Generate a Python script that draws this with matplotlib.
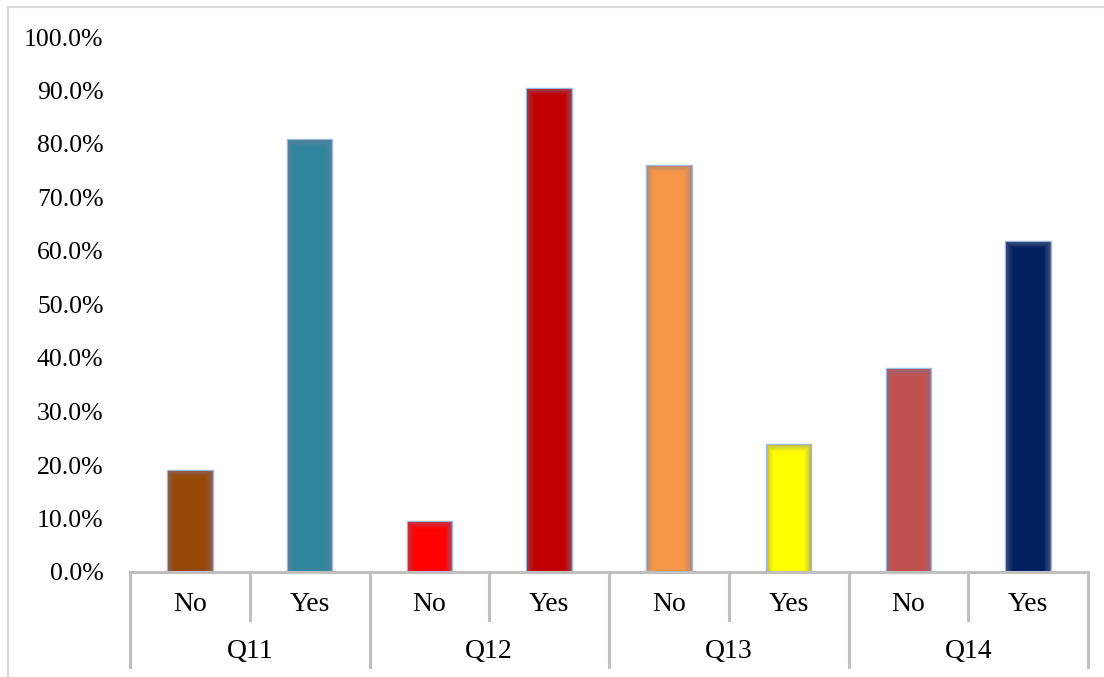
import numpy as np
import matplotlib.pyplot as plt
from matplotlib.colors import to_rgb
from matplotlib.transforms import blended_transform_factory
from matplotlib.lines import Line2D

# Datos
questions = ['Q11', 'Q12', 'Q13', 'Q14']
answers = ['No', 'Yes']
values = [19.1, 80.9, 9.5, 90.5, 76.1, 23.9, 38.1, 61.9]
colors = ['#974706', '#31859C', '#FF0000', '#C00000',
          '#F79646', '#FFFF00', '#C0504D', '#002060']

plt.rcParams['font.family'] = ['Liberation Serif', 'DejaVu Serif']

fig = plt.figure(figsize=(11.04, 6.77), dpi=100)
ax = fig.add_axes([130 / 1104, 105 / 677, 958 / 1104, 535 / 677])

x = np.arange(len(values))
width = 0.38
edge_tone = np.array(to_rgb('#7A7A9C'))

# Barras con un ligero degradado en los bordes
n_layers = 8
for xi, v, c in zip(x, values, colors):
    base = np.array(to_rgb(c))
    outer = 0.4 * base + 0.6 * edge_tone
    ax.bar(xi, v / 100, width, color=outer,
           edgecolor='#9DB9E0', linewidth=1.0, zorder=2)
    for k in range(1, n_layers + 1):
        t = k / n_layers
        col = (1 - t ** 0.7) * outer + t ** 0.7 * base
        w = width * (1 - 0.32 * t)
        h = v / 100 - 0.014 * t
        ax.bar(xi, h, w, color=np.clip(col, 0, 1), linewidth=0, zorder=2 + k * 0.01)

ax.set_xlim(-0.5, len(values) - 0.5)
ax.set_ylim(0, 1.0)
ticks = np.arange(0, 1.01, 0.1)
ax.set_yticks(ticks)
ax.set_yticklabels([f'{t * 100:.1f}%' for t in ticks])
ax.tick_params(axis='y', length=0, pad=19, labelsize=18.5)
ax.set_xticks([])

for s in ['top', 'right', 'left']:
    ax.spines[s].set_visible(False)
ax.spines['bottom'].set_color('#BFBFBF')
ax.spines['bottom'].set_linewidth(2.2)

# Etiquetas jerarquicas del eje x
tr = blended_transform_factory(ax.transData, ax.transAxes)
gray = '#BFBFBF'
for i in range(len(values)):
    ax.text(i, -0.06, answers[i % 2], transform=tr, ha='center', va='center', fontsize=20)
for j, q in enumerate(questions):
    ax.text(2 * j + 0.5, -0.148, q, transform=tr, ha='center', va='center', fontsize=20)

for b in np.arange(-0.5, len(values), 1.0):
    idx = int(b + 0.5)
    low = -0.178 if idx % 2 == 0 else -0.09
    ax.plot([b, b], [0, low], transform=tr, color=gray, lw=2.2, clip_on=False)

# Borde del grafico (arriba e izquierda)
fig.add_artist(Line2D(np.array([8, 1104]) / 1104, np.array([670, 670]) / 677, color='#D9D9D9', lw=1.5))
fig.add_artist(Line2D(np.array([8, 8]) / 1104, np.array([0, 670]) / 677, color='#D9D9D9', lw=1.5))

fig.savefig('out.png', dpi=100)
